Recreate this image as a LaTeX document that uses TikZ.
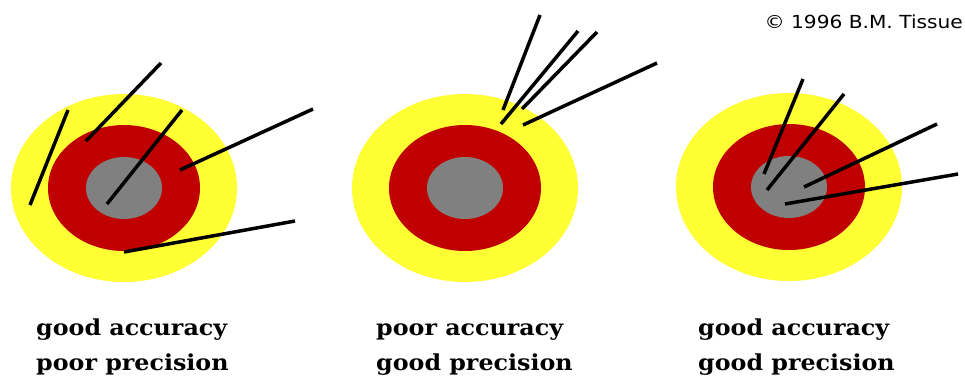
\documentclass[tikz,border=0pt]{standalone}
\usepackage{fontspec}
\usepackage{graphicx}
\newfontfamily\labelfont{DejaVu Serif}
\newfontfamily\notefont{DejaVu Sans}
\definecolor{ringyellow}{HTML}{FFFF33}
\definecolor{ringred}{HTML}{C00000}
\definecolor{bullgray}{HTML}{808080}
\tikzset{
    outerring/.style={fill=ringyellow},
    innerring/.style={fill=ringred},
    bullseye/.style={fill=bullgray},
    shot/.style={draw=black, line width=3.5pt},
    caption/.style={
        font=\labelfont\bfseries\fontsize{22}{26}\selectfont,
        anchor=base west, inner sep=0pt
    },
    credit/.style={
        font=\notefont\fontsize{18}{22}\selectfont,
        anchor=base east, inner sep=0pt
    }
}
\newcommand{\widetext}[2]{\scalebox{#1}[1]{#2}}

\begin{document}
\begin{tikzpicture}[x=1pt, y=-1pt]
\useasboundingbox (0,0) rectangle (965,376);

% === TARGETS ===
\foreach \cx/\cy in {124/188, 465/188, 789/187} {
    \fill[outerring] (\cx,\cy) ellipse [x radius=113, y radius=94];
    \fill[innerring] (\cx,\cy) ellipse [x radius=76, y radius=63];
    \fill[bullseye]  (\cx,\cy) ellipse [x radius=38, y radius=31];
}

% === SHOTS: good accuracy, poor precision ===
\draw[shot] (30,205) -- (68,110);
\draw[shot] (86,141) -- (161,63);
\draw[shot] (107,204) -- (182,110);
\draw[shot] (180,170) -- (313,109);
\draw[shot] (124,252) -- (295,221);

% === SHOTS: poor accuracy, good precision ===
\draw[shot] (503,110) -- (540,15);
\draw[shot] (501,124) -- (578,31);
\draw[shot] (522,109) -- (597,32);
\draw[shot] (523,125) -- (657,63);

% === SHOTS: good accuracy, good precision ===
\draw[shot] (764,174) -- (803,79);
\draw[shot] (767,190) -- (844,94);
\draw[shot] (804,187) -- (937,124);
\draw[shot] (785,204) -- (958,174);

% === CAPTIONS ===
\node (acc1)  [caption] at (36,335)  {\widetext{1.08}{good accuracy}};
\node (prec1) [caption] at (36,370)  {\widetext{1.08}{poor precision}};
\node (acc2)  [caption] at (376,335) {\widetext{1.08}{poor accuracy}};
\node (prec2) [caption] at (376,370) {\widetext{1.08}{good precision}};
\node (acc3)  [caption] at (698,335) {\widetext{1.08}{good accuracy}};
\node (prec3) [caption] at (698,370) {\widetext{1.08}{good precision}};

\node (note) [credit] at (963,28) {\widetext{1.12}{© 1996 B.M. Tissue}};

\end{tikzpicture}
\end{document}
